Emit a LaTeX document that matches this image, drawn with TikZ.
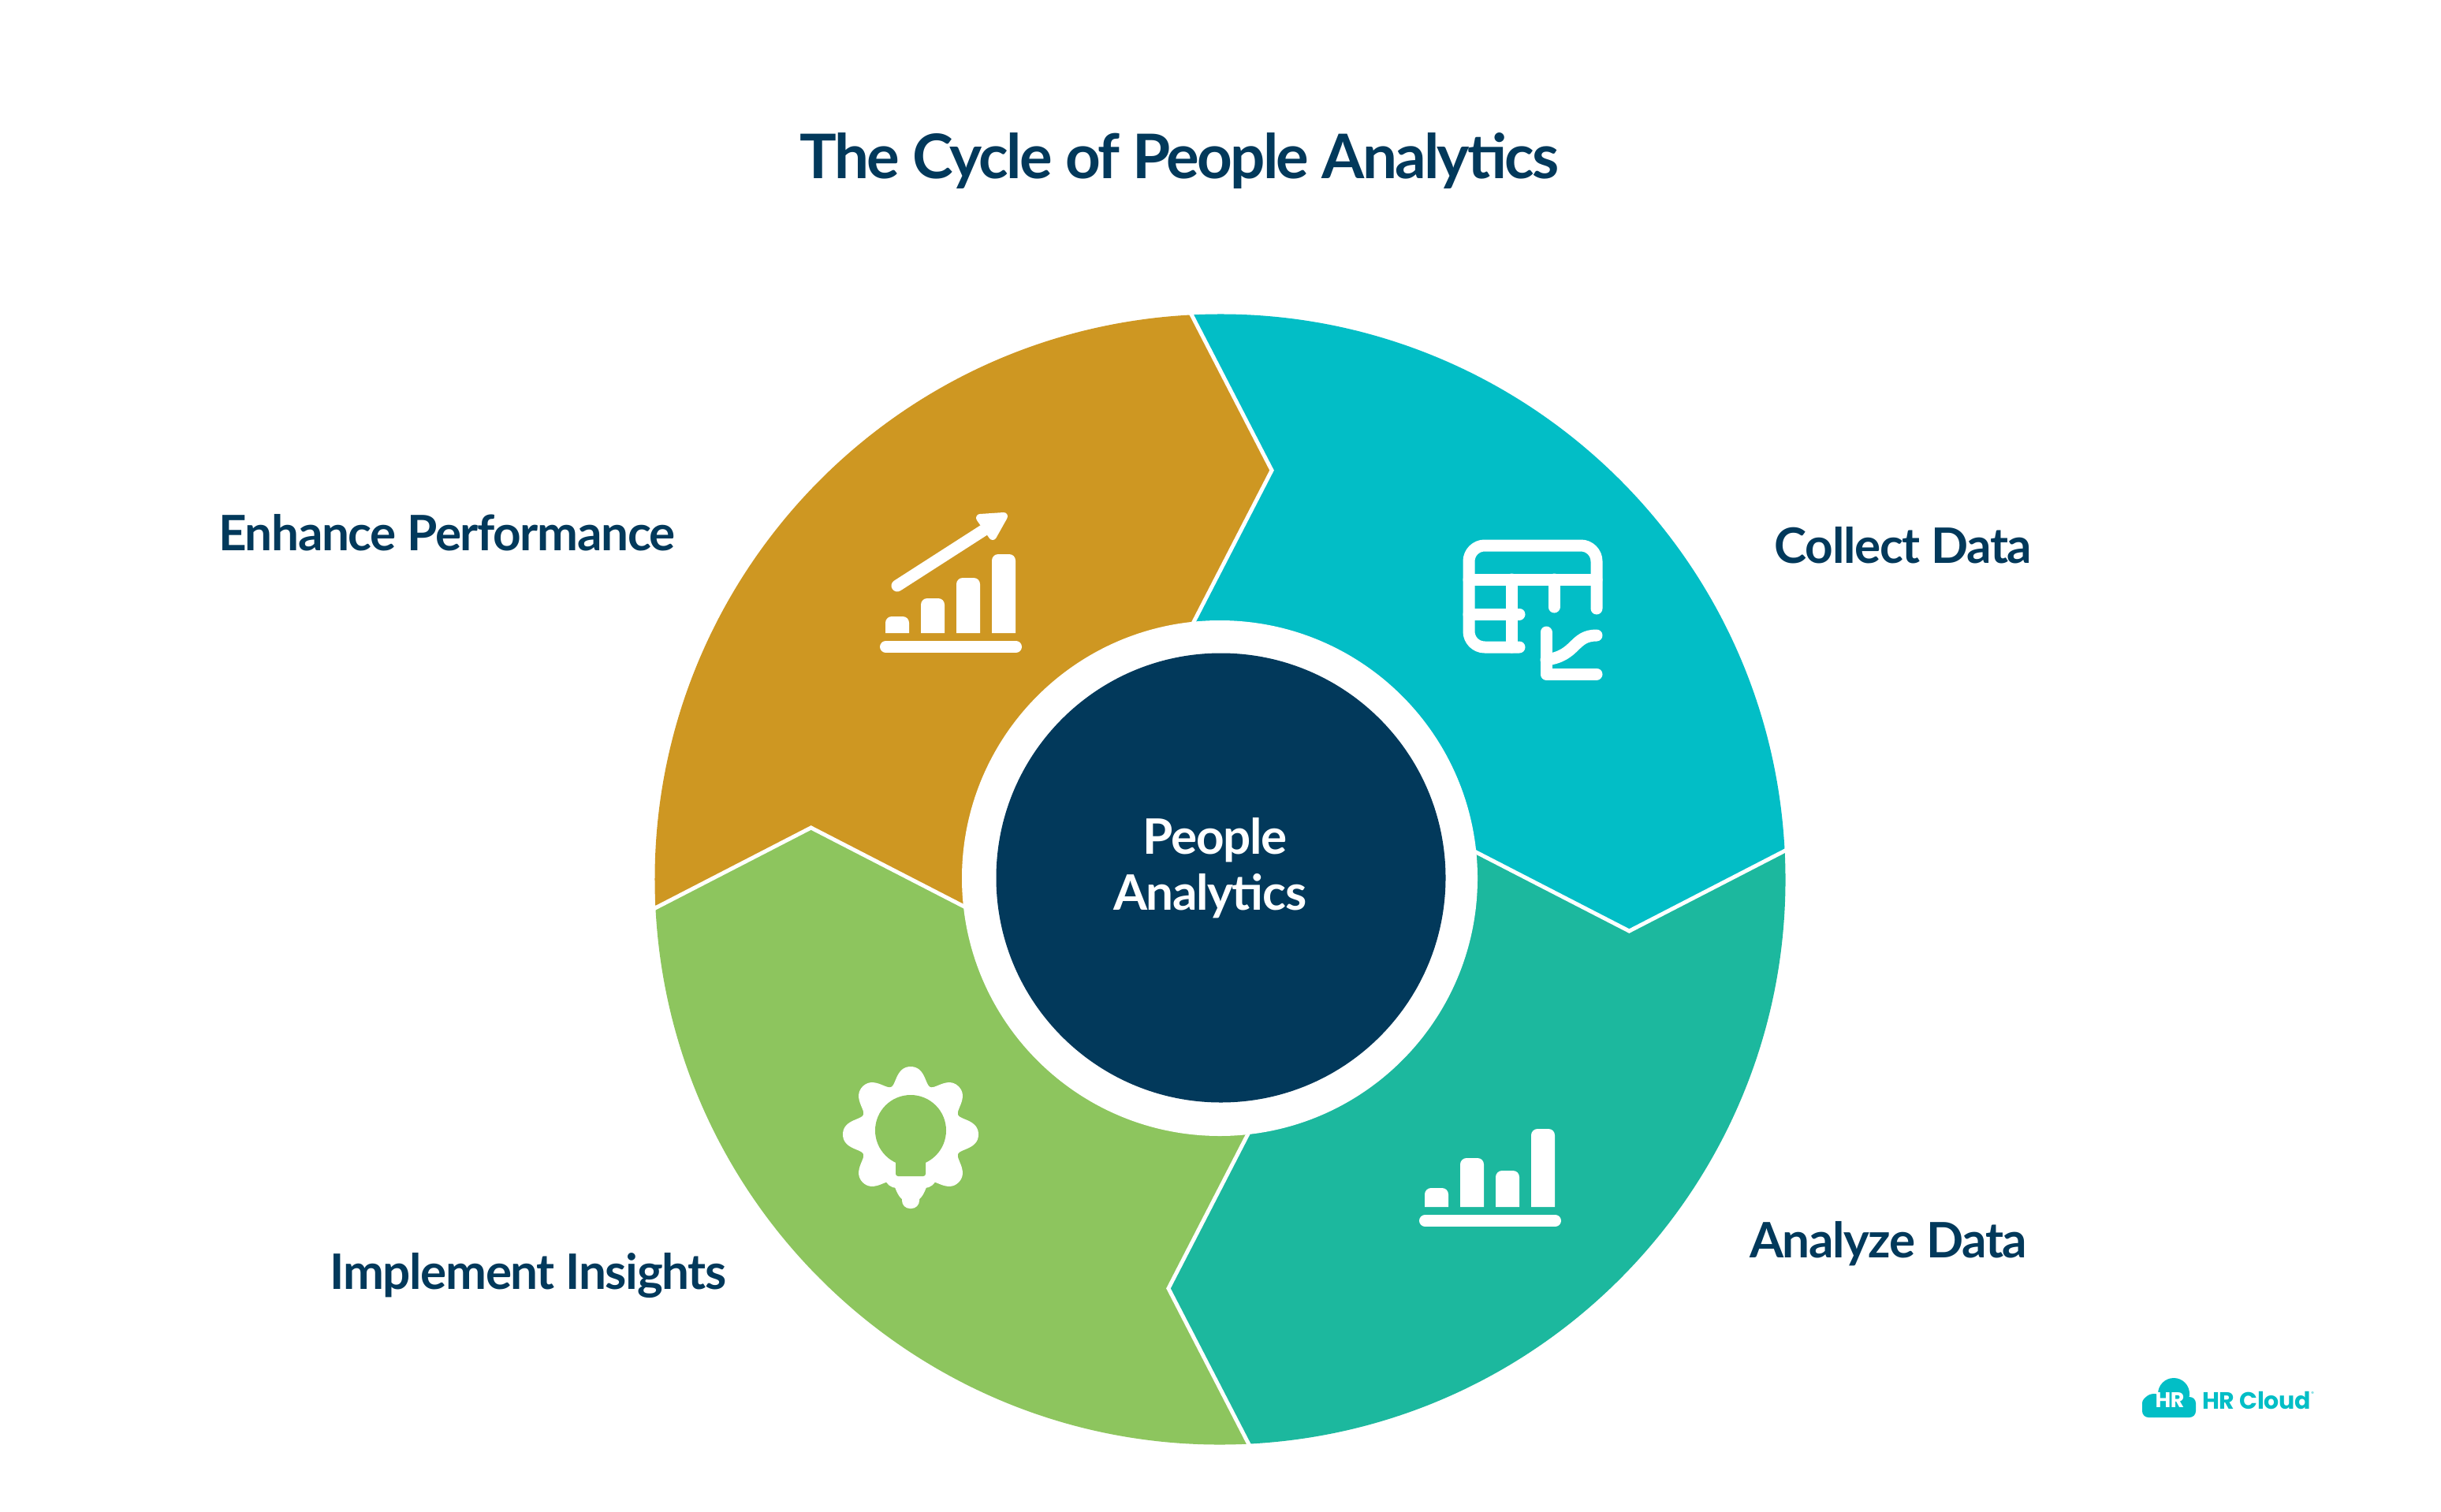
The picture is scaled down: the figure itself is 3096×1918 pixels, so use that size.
\documentclass[tikz,border=0pt]{standalone}
\usepackage{fontspec}
\setmainfont{Lato}[LetterSpace=-2.2]
\newfontfamily\titlefont{Lato}[LetterSpace=-3.6]
\newfontfamily\logofont{Poppins}[LetterSpace=-1.0]
\definecolor{navy}{HTML}{02395B}
\definecolor{cteal}{HTML}{02BEC6}
\definecolor{cgold}{HTML}{CE9722}
\definecolor{cgreen}{HTML}{8DC55E}
\definecolor{csea}{HTML}{1CB89E}
\tikzset{
  label text/.style={text=navy,font=\fontsize{62}{71}\selectfont\bfseries,inner sep=0pt},
  icon line/.style={draw=white,line width=15pt,line cap=round,line join=round},
}
\newcommand{\cx}{1547.5}
\newcommand{\cy}{1115.5}
\newcommand{\sectorpiece}[2]{%
  \fill[#2] ([shift={(#1-93:717)}]\cx,\cy) arc[start angle=#1-93,end angle=#1-3,radius=717]
    -- ([shift={(#1+7.2:523)}]\cx,\cy) -- ([shift={(#1-7.2:317)}]\cx,\cy)
    arc[start angle=#1-7.2,end angle=#1-97.2,radius=317]
    -- ([shift={(#1-82.8:523)}]\cx,\cy) -- cycle;
}
\newcommand{\sectoredge}[1]{%
  \draw[white,line width=5pt,line join=miter] ([shift={(#1-93:720)}]\cx,\cy)
    -- ([shift={(#1-82.8:523)}]\cx,\cy) -- ([shift={(#1-97.2:317)}]\cx,\cy);
}
\newcommand{\chartbar}[3]{%
  \fill[white] (#1,#3) [rounded corners=8pt] -- (#1,#2) -- ({#1+30},#2) [sharp corners] -- ({#1+30},#3) -- cycle;
}
\begin{document}
\begin{tikzpicture}[x=1pt,y=1pt,yscale=-1]
\useasboundingbox (0,0) rectangle (3096,1918);
\fill[white] (0,0) rectangle (3096,1918);

% wheel
\sectorpiece{0}{cteal}
\sectorpiece{90}{csea}
\sectorpiece{180}{cgreen}
\sectorpiece{270}{cgold}
\sectoredge{0}
\sectoredge{90}
\sectoredge{180}
\sectoredge{270}
\fill[white] (1547,1114) circle[radius=327];
\fill[navy] (1548.5,1113.5) circle[radius=285];

% gold icon
\chartbar{1123}{782}{803}
\chartbar{1168}{759}{803}
\chartbar{1213}{733}{803}
\chartbar{1258}{703}{803}
\draw[icon line] (1123.5,820.5) -- (1288.5,820.5);
\draw[icon line] (1138,743) -- (1247,673);
\fill[white,draw=white,line width=10pt,line join=round] (1243,657) -- (1273,655) -- (1259,680) -- cycle;

% sea icon
\chartbar{1807}{1507}{1531}
\chartbar{1852}{1469}{1531}
\chartbar{1897}{1485}{1531}
\chartbar{1942}{1432}{1531}
\draw[icon line] (1807.5,1548.5) -- (1972.5,1548.5);

% teal icon
\draw[icon line] (2025,772) -- (2025,712) arc[start angle=0,end angle=-90,radius=20] -- (1883,692) arc[start angle=270,end angle=180,radius=20] -- (1863,801) arc[start angle=180,end angle=90,radius=20] -- (1927,821);
\draw[icon line] (1863,735) -- (2025,735);
\draw[icon line] (1917,735) -- (1917,821);
\draw[icon line] (1863,779) -- (1927,779);
\draw[icon line] (1971,735) -- (1971,770);
\draw[icon line] (1961,802) -- (1961,855) -- (2025,855);
\draw[icon line] (1961,837) .. controls (2000,832) and (1995,806) .. (2025,806);

% green icon
\fill[white] plot[domain=0:360,samples=240,smooth] ({1155+(77+10.5*cos(8*\x)-1.5*cos(16*\x))*cos(\x)},{1439+(77+10.5*cos(8*\x)-1.5*cos(16*\x))*sin(\x)});
\fill[white,rounded corners=12pt] (1118,1478) -- (1192,1478) -- (1185,1507) -- (1125,1507) -- cycle;
\fill[white,rounded corners=10pt] (1144,1490) -- (1166,1490) -- (1166,1533) -- (1144,1533) -- cycle;
\fill[cgreen] (1155,1434) circle[radius=45];
\fill[cgreen,rounded corners=3pt] (1136,1460) -- (1174,1460) -- (1174,1492) -- (1136,1492) -- cycle;

% logo
\fill[cteal] (2732,1783) circle[radius=15] (2757,1768) circle[radius=20] (2772,1785) circle[radius=13];
\fill[cteal,rounded corners=8pt] (2717,1772) rectangle (2785,1798);

% texts
\node[label text,font=\titlefont\fontsize{78}{90}\selectfont\bfseries] (title) at (1496,204) {The Cycle of People Analytics};
\node[label text] (enhance) at (567,676) {Enhance Performance};
\node[label text] (collect) at (2414,692) {Collect Data};
\node[label text] (analyze) at (2395,1578) {Analyze Data};
\node[label text] (implement) at (670,1618) {Implement Insights};
\node[label text,text=white,align=center] (center) at (1534.5,1101) {\hspace*{13pt}People\\Analytics};
\node[inner sep=0pt,text=white,font=\logofont\fontsize{27}{30}\selectfont\bfseries] (hr) at (2752,1776) {HR};
\node[inner sep=0pt,text=cteal,font=\logofont\fontsize{30}{36}\selectfont\bfseries] (hrcloud) at (2862,1776) {HR Cloud};
\node[inner sep=0pt,text=cteal,font=\logofont\fontsize{7}{8}\selectfont] (reg) at (2933,1768) {®};
\end{tikzpicture}
\end{document}
